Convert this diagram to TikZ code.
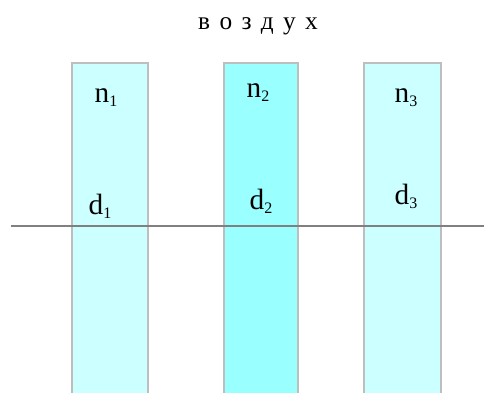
\documentclass[tikz,border=0pt]{standalone}
\usepackage{fontspec}
\setmainfont{Liberation Serif}
\definecolor{paleCyan}{RGB}{204,255,255}
\definecolor{midCyan}{RGB}{153,255,255}
\definecolor{edgeGray}{RGB}{190,190,190}
\newcommand{\idx}[1]{\raisebox{-0.3ex}{\fontsize{12}{13}\selectfont #1}}
\newcommand{\gap}{\hspace{7pt}}
\tikzset{every picture/.style={line width=0.75pt}}
\tikzset{
  layer/.style={draw=edgeGray, line width=1.1pt},
  lbl/.style={font=\fontsize{22}{24}\selectfont, inner sep=0pt},
}

\begin{document}
\begin{tikzpicture}[x=0.75pt,y=0.75pt,yscale=-1,xscale=1]
%set diagram: 484 wide, 392 high
\path[fill=white] (0,0) rectangle (484,392);
\useasboundingbox (0,0) rectangle (484,392);

%Strips
\draw [layer, fill=paleCyan] (72,63) rectangle (148,400);
\draw [layer, fill=midCyan] (224,63) rectangle (298,400);
\draw [layer, fill=paleCyan] (364,63) rectangle (441,400);

%Boundary line
\coordinate (left) at (11,226);
\coordinate (right) at (484,226);
\draw [color={rgb, 255:red, 128; green, 128; blue, 128 }, line width=0.9pt] (left) -- (right);

% Text Node
\node (air) at (258,26) {\fontsize{19}{21}\selectfont в\gap о\gap з\gap д\gap у\gap х};
% Text Node
\node [lbl] (n1) at (106,98) {n\idx{1}};
\node [lbl] (n2) at (258,93) {n\idx{2}};
\node [lbl] (n3) at (406,98) {n\idx{3}};
% Text Node
\node [lbl] (d1) at (100,206) {d\idx{1}};
\node [lbl] (d2) at (261,201) {d\idx{2}};
\node [lbl] (d3) at (406,196) {d\idx{3}};

\end{tikzpicture}
\end{document}
